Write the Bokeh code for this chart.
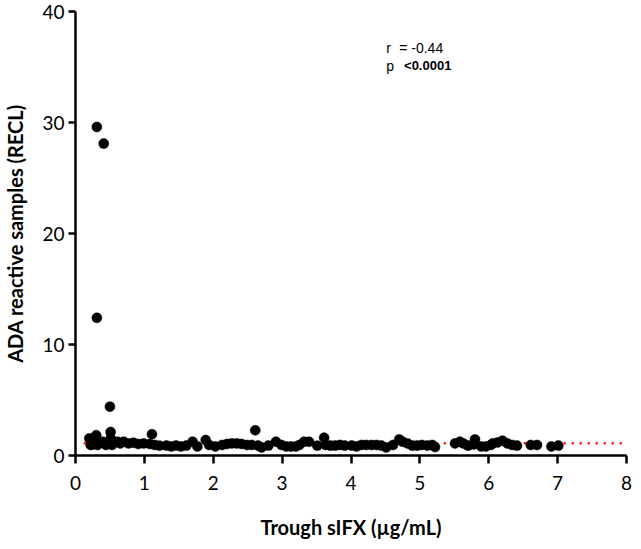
from bokeh.plotting import figure
from bokeh.models import Range1d, FixedTicker, ColumnDataSource
from bokeh.core.properties import value
from bokeh.embed import file_html
from bokeh.resources import INLINE

# ---- data ----
trough_sifx = [
    0.31, 0.41, 0.31, 0.50,
    0.20, 0.22, 0.25, 0.27, 0.30, 0.32, 0.39, 0.44, 0.51, 0.51, 0.53, 0.61, 0.65, 0.70,
    0.77, 0.84, 0.91, 0.99, 1.08, 1.11, 1.15, 1.22, 1.32, 1.39, 1.46, 1.53, 1.61, 1.70,
    1.77, 1.89, 1.94, 2.03,
    2.13, 2.20, 2.27, 2.34, 2.41, 2.49, 2.56, 2.61, 2.65, 2.70, 2.80, 2.91, 2.99, 3.06,
    3.13, 3.20, 3.25, 3.32, 3.39, 3.51, 3.61, 3.63, 3.70, 3.77, 3.84, 3.91, 4.01,
    4.08, 4.15, 4.22, 4.30, 4.37, 4.44, 4.51, 4.61, 4.70, 4.75, 4.82, 4.89, 4.96, 5.03,
    5.11, 5.18, 5.22, 5.51, 5.58, 5.63, 5.70, 5.78, 5.80, 5.89, 5.96, 6.03,
    6.06, 6.13, 6.20, 6.27, 6.34, 6.41, 6.61, 6.70, 6.91, 7.01,
]
ada_recl = [
    29.6, 28.1, 12.4, 4.4,
    1.54, 0.95, 1.00, 1.35, 1.83, 0.95, 1.24, 0.95, 2.12, 1.54, 0.95, 1.24, 1.09, 1.24,
    1.09, 1.15, 1.04, 1.09, 1.04, 1.92, 0.95, 0.89, 0.89, 0.81, 0.89, 0.81, 0.89, 1.24,
    0.81, 1.39, 0.95, 0.81,
    0.95, 1.04, 1.09, 1.09, 1.04, 0.95, 0.95, 2.27, 0.89, 0.72, 0.89, 1.24, 0.95, 0.81,
    0.81, 0.81, 0.95, 1.24, 1.24, 0.89, 1.60, 0.95, 0.89, 0.89, 0.95, 0.89, 0.89,
    0.81, 0.95, 0.95, 0.95, 0.95, 0.89, 0.72, 0.95, 1.45, 1.24, 1.09, 0.89, 0.89, 0.95,
    0.89, 0.95, 0.76, 1.09, 1.24, 1.09, 0.89, 1.00, 1.45, 0.81, 0.81, 0.95,
    1.09, 1.18, 1.33, 1.09, 0.95, 0.89, 0.95, 0.95, 0.81, 0.89,
]
cutoff_x = [0.12, 8.0]
cutoff_y = [1.10, 1.10]

x_ticks = [0, 1, 2, 3, 4, 5, 6, 7, 8]
y_ticks = [0, 10, 20, 30, 40]

stat_r_label = "r"
stat_r_value = "= -0.44"
stat_p_label = "p"
stat_p_value = "<0.0001"
stat_x = [4.51, 4.70, 4.51, 4.77]
stat_y = [36.73, 36.73, 35.10, 35.10]

# ---- figure ----
p = figure(width=633, height=541, output_backend="svg", toolbar_location=None,
           x_range=Range1d(0, 8), y_range=Range1d(0, 40),
           min_border_left=74, min_border_right=7, min_border_top=11, min_border_bottom=82)
p.background_fill_color = "white"
p.border_fill_color = "white"
p.outline_line_color = None
p.xgrid.grid_line_color = None
p.ygrid.grid_line_color = None

p.line(cutoff_x, cutoff_y, line_color="#ff0000", line_width=2.5, line_dash="2 6")

src = ColumnDataSource(dict(x=trough_sifx, y=ada_recl))
p.scatter("x", "y", source=src, size=10, fill_color="black", line_color="black", line_width=0.5)

for ax in (p.xaxis[0], p.yaxis[0]):
    ax.axis_line_color = "black"
    ax.axis_line_width = 2.5
    ax.major_tick_line_color = "black"
    ax.major_tick_line_width = 2.5
    ax.major_tick_in = 0
    ax.major_tick_out = 8
    ax.minor_tick_line_color = None
    ax.major_label_text_font = "Lato"
    ax.major_label_text_font_size = "19px"
    ax.major_label_text_color = "black"
    ax.axis_label_text_font = "Lato"
    ax.axis_label_text_font_size = "20px"
    ax.axis_label_text_font_style = "bold"
    ax.axis_label_text_color = "black"

p.xaxis.ticker = FixedTicker(ticks=x_ticks)
p.yaxis.ticker = FixedTicker(ticks=y_ticks)
p.xaxis.axis_label = "Trough sIFX (µg/mL)"
p.yaxis.axis_label = "ADA reactive samples (RECL)"
p.xaxis.major_label_standoff = 12
p.xaxis.axis_label_standoff = 22
p.yaxis.major_tick_out = 7
p.yaxis.major_label_standoff = 4
p.yaxis.axis_label_standoff = 12

p.text(x=stat_x[:3], y=stat_y[:3], text=[stat_r_label, stat_r_value, stat_p_label],
       text_font=value("Liberation Sans"), text_font_size="14px", text_color="black",
       text_baseline="alphabetic", text_align="left")
p.text(x=stat_x[3:], y=stat_y[3:], text=[stat_p_value],
       text_font=value("Liberation Sans"), text_font_size="13px", text_font_style="bold",
       text_color="black", text_baseline="alphabetic", text_align="left")

open("out.html", "w").write(file_html(p, INLINE))
